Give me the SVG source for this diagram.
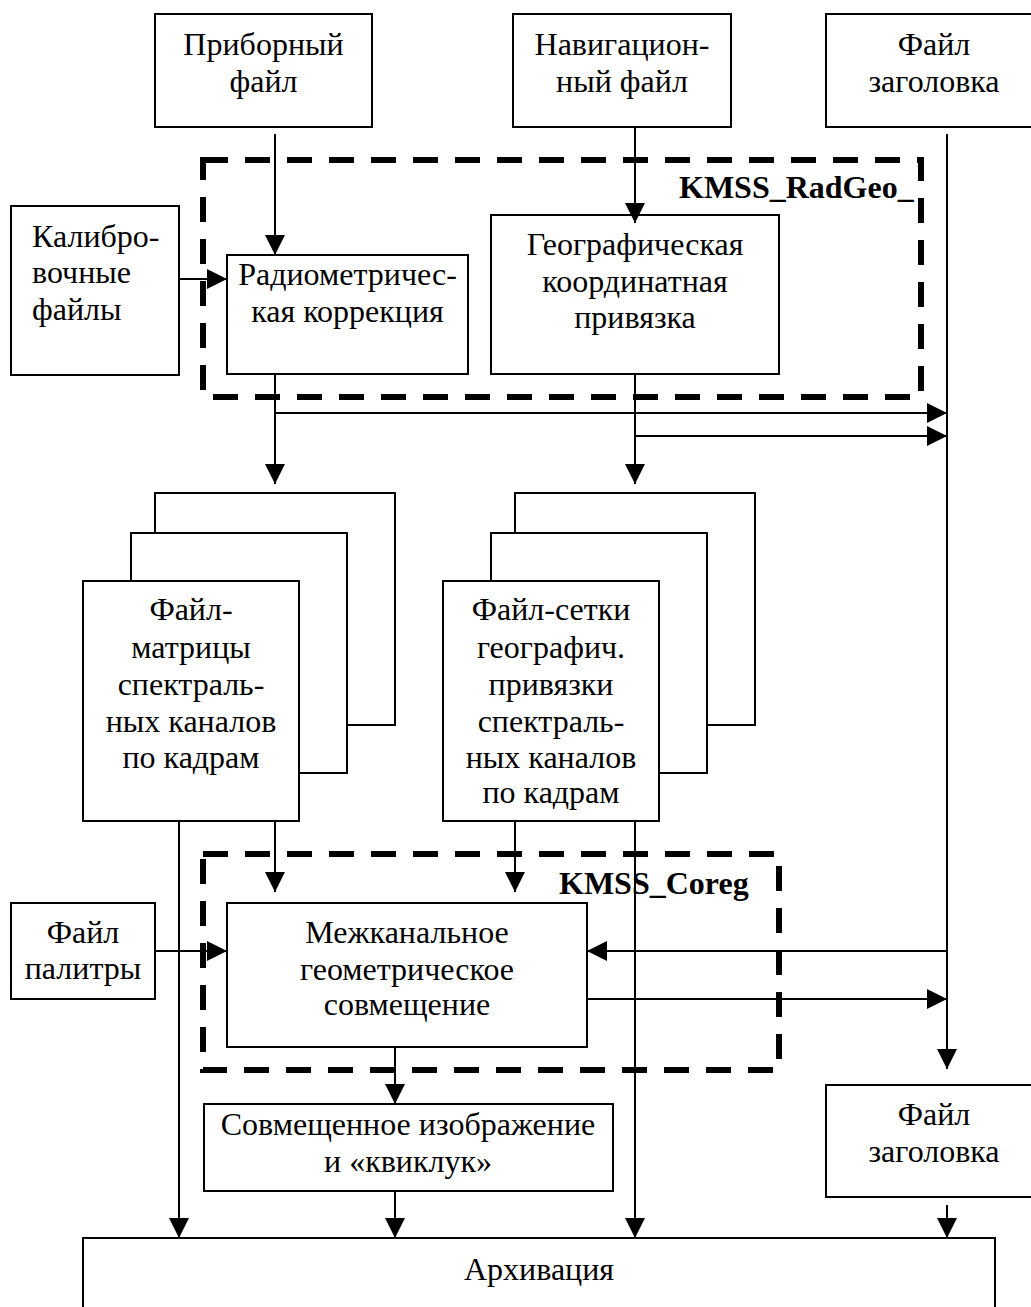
<svg xmlns="http://www.w3.org/2000/svg" width="1031" height="1307" viewBox="0 0 1031 1307">
<style>
.box{fill:#fff;stroke:#000;stroke-width:2}
.dash{fill:none;stroke:#000;stroke-width:6;stroke-dasharray:25 17}
.ln{fill:none;stroke:#000;stroke-width:2}
.t{font-family:"Liberation Serif","Times New Roman",serif;font-size:32px;fill:#000;text-anchor:middle}
.l{text-anchor:start}
.b{font-family:"Liberation Serif","Times New Roman",serif;font-size:32px;font-weight:bold;fill:#000}
</style>
<defs>
<marker id="ah" viewBox="0 0 20 20" refX="20" refY="10" markerWidth="20" markerHeight="20" markerUnits="userSpaceOnUse" orient="auto">
<path d="M0,0 L20,10 L0,20 Z" fill="#000"/>
</marker>
</defs>
<rect width="1031" height="1307" fill="#fff"/>

<g id="group-radgeo">
<rect class="dash" x="203" y="160" width="718" height="237"/>
<text class="b" x="679" y="198">KMSS_RadGeo_</text>
</g>
<g id="group-coreg">
<rect class="dash" x="203" y="854" width="576" height="216"/>
<text class="b" x="559" y="894">KMSS_Coreg</text>
</g>

<g id="n-pribor">
<rect class="box" x="155" y="14" width="217" height="113"/>
<text class="t" x="263.5" y="55">Приборный</text>
<text class="t" x="263.5" y="92">файл</text>
</g>
<g id="n-navig">
<rect class="box" x="513" y="14" width="218" height="113"/>
<text class="t" x="622" y="55">Навигацион-</text>
<text class="t" x="622" y="92">ный файл</text>
</g>
<g id="n-header-top">
<rect class="box" x="826" y="14" width="216" height="113"/>
<text class="t" x="934" y="55">Файл</text>
<text class="t" x="934" y="92">заголовка</text>
</g>
<g id="n-calib">
<rect class="box" x="11" y="206" width="168" height="169"/>
<text class="t l" x="32" y="247">Калибро-</text>
<text class="t l" x="32" y="283">вочные</text>
<text class="t l" x="32" y="320">файлы</text>
</g>
<g id="n-radiom">
<rect class="box" x="227" y="255" width="241" height="119"/>
<text class="t" x="347.5" y="285">Радиометричес-</text>
<text class="t" x="347.5" y="322">кая коррекция</text>
</g>
<g id="n-geo">
<rect class="box" x="491" y="215" width="288" height="159"/>
<text class="t" x="635" y="255">Географическая</text>
<text class="t" x="635" y="292">координатная</text>
<text class="t" x="635" y="328">привязка</text>
</g>
<g id="n-matrix">
<rect class="box" x="155" y="493" width="240" height="232"/>
<rect class="box" x="131" y="533" width="216" height="240"/>
<rect class="box" x="83" y="581" width="216" height="240"/>
<text class="t" x="191" y="620">Файл-</text>
<text class="t" x="191" y="658">матрицы</text>
<text class="t" x="191" y="695">спектраль-</text>
<text class="t" x="191" y="732">ных каналов</text>
<text class="t" x="191" y="768">по кадрам</text>
</g>
<g id="n-grid">
<rect class="box" x="515" y="493" width="240" height="232"/>
<rect class="box" x="491" y="533" width="216" height="240"/>
<rect class="box" x="443" y="581" width="216" height="240"/>
<text class="t" x="551" y="620">Файл-сетки</text>
<text class="t" x="551" y="658">географич.</text>
<text class="t" x="551" y="695">привязки</text>
<text class="t" x="551" y="732">спектраль-</text>
<text class="t" x="551" y="768">ных каналов</text>
<text class="t" x="551" y="803">по кадрам</text>
</g>
<g id="n-palette">
<rect class="box" x="11" y="903" width="144" height="96"/>
<text class="t" x="83" y="943">Файл</text>
<text class="t" x="83" y="979">палитры</text>
</g>
<g id="n-coreg">
<rect class="box" x="227" y="903" width="360" height="144"/>
<text class="t" x="407" y="943">Межканальное</text>
<text class="t" x="407" y="980">геометрическое</text>
<text class="t" x="407" y="1015">совмещение</text>
</g>
<g id="n-combined">
<rect class="box" x="204" y="1104" width="409" height="87"/>
<text class="t" x="408" y="1135">Совмещенное изображение</text>
<text class="t" x="408" y="1172">и «квиклук»</text>
</g>
<g id="n-header-bottom">
<rect class="box" x="826" y="1085" width="216" height="112"/>
<text class="t" x="934" y="1125">Файл</text>
<text class="t" x="934" y="1162">заголовка</text>
</g>
<g id="n-archive">
<rect class="box" x="83" y="1238" width="912" height="100"/>
<text class="t" x="539" y="1280">Архивация</text>
</g>

<g id="connectors">
<line class="ln" x1="275" y1="134" x2="275" y2="255" marker-end="url(#ah)"/>
<line class="ln" x1="635" y1="127" x2="635" y2="223" marker-end="url(#ah)"/>
<line class="ln" x1="179" y1="279" x2="227" y2="279" marker-end="url(#ah)"/>
<line class="ln" x1="947" y1="134" x2="947" y2="1069" marker-end="url(#ah)"/>
<line class="ln" x1="275" y1="374" x2="275" y2="484" marker-end="url(#ah)"/>
<line class="ln" x1="275" y1="413" x2="947" y2="413" marker-end="url(#ah)"/>
<line class="ln" x1="635" y1="374" x2="635" y2="484" marker-end="url(#ah)"/>
<line class="ln" x1="635" y1="436" x2="947" y2="436" marker-end="url(#ah)"/>
<line class="ln" x1="275" y1="821" x2="275" y2="892" marker-end="url(#ah)"/>
<line class="ln" x1="515" y1="821" x2="515" y2="892" marker-end="url(#ah)"/>
<line class="ln" x1="179" y1="821" x2="179" y2="1238" marker-end="url(#ah)"/>
<line class="ln" x1="635" y1="821" x2="635" y2="1238" marker-end="url(#ah)"/>
<line class="ln" x1="155" y1="951" x2="227" y2="951" marker-end="url(#ah)"/>
<line class="ln" x1="947" y1="951" x2="587" y2="951" marker-end="url(#ah)"/>
<line class="ln" x1="587" y1="999" x2="947" y2="999" marker-end="url(#ah)"/>
<line class="ln" x1="395" y1="1047" x2="395" y2="1104" marker-end="url(#ah)"/>
<line class="ln" x1="395" y1="1191" x2="395" y2="1238" marker-end="url(#ah)"/>
<line class="ln" x1="947" y1="1205" x2="947" y2="1238" marker-end="url(#ah)"/>
</g>
</svg>
